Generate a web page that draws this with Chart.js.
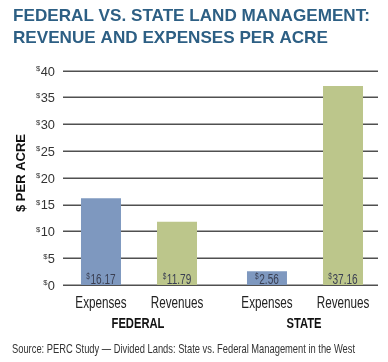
<!DOCTYPE html>
<html>
<head>
<meta charset="utf-8">
<script src="https://cdn.jsdelivr.net/npm/chart.js@4"></script>
<style>
  html, body { margin: 0; padding: 0; background: #fff; }
  canvas { display: block; }
</style>
</head>
<body>
<canvas id="myChart" width="388" height="362"></canvas>
<script>
// data
const groups = ['FEDERAL', 'STATE']
const seriesNames = ['Expenses', 'Revenues']
const expenses = [16.17, 2.56]
const revenues = [11.79, 37.16]
const yTicks = [0, 5, 10, 15, 20, 25, 30, 35, 40]

const titleLines = ['FEDERAL VS. STATE LAND MANAGEMENT:', 'REVENUE AND EXPENSES PER ACRE']
const yTitle = '$ PER ACRE'
const source = 'Source: PERC Study \u2014 Divided Lands: State vs. Federal Management in the West'

const FONT = '"Liberation Sans", Arial, sans-serif'

// no condensed face installed, so squeeze the regular one sideways
function narrowText(ctx, text, x, y, sx, align) {
    ctx.save()
    ctx.translate(x, y)
    ctx.scale(sx, 1)
    ctx.textAlign = align
    ctx.fillText(text, 0, 0)
    ctx.restore()
}

// "$" as a small raised sign in front of a number
function dollarText(ctx, num, x, y, size, sx, align) {
    ctx.font = size + 'px ' + FONT
    const w = ctx.measureText(num).width * sx
    ctx.font = Math.round(size * 0.62) + 'px ' + FONT
    const sw = ctx.measureText('$').width * sx + 0.5
    let left = x
    if (align === 'right') left = x - w - sw
    if (align === 'center') left = x - (w + sw) / 2
    narrowText(ctx, '$', left, y - size * 0.33, sx, 'left')
    ctx.font = size + 'px ' + FONT
    narrowText(ctx, num, left + sw, y, sx, 'left')
}

const decorations = {
    id: 'decorations',
    beforeDatasetsDraw(chart) {
        const ctx = chart.ctx
        const y = chart.scales.y
        ctx.save()
        ctx.strokeStyle = '#505050'
        ctx.lineWidth = 1.4
        yTicks.forEach(v => {
            const py = Math.round(y.getPixelForValue(v)) + 0.3
            ctx.beginPath()
            ctx.moveTo(63, py)
            ctx.lineTo(378, py)
            ctx.stroke()
        })
        ctx.restore()
    },
    afterDatasetsDraw(chart) {
        const ctx = chart.ctx
        const x = chart.scales.x
        const y = chart.scales.y
        ctx.save()
        ctx.textBaseline = 'alphabetic'

        // title
        ctx.fillStyle = '#2d5f84'
        ctx.font = 'bold 17px ' + FONT
        const tw = ctx.measureText(titleLines[0]).width
        narrowText(ctx, titleLines[0], 13, 21, 357 / tw, 'left')
        narrowText(ctx, titleLines[1], 13, 43, 357 / tw, 'left')

        // y tick labels
        ctx.fillStyle = '#333'
        yTicks.forEach(v => {
            dollarText(ctx, String(v), 55, y.getPixelForValue(v) + 4.8, 13.5, 0.95, 'right')
        })

        // y title
        ctx.save()
        ctx.translate(25, 173)
        ctx.rotate(-Math.PI / 2)
        ctx.font = 'bold 13px ' + FONT
        ctx.textAlign = 'center'
        ctx.fillStyle = '#111'
        ctx.fillText(yTitle, 0, 0)
        ctx.restore()

        // values in bars, series names under bars
        const allData = [expenses, revenues]
        allData.forEach((arr, di) => {
            chart.getDatasetMeta(di).data.forEach((bar, i) => {
                ctx.fillStyle = '#3a3f52'
                dollarText(ctx, arr[i].toFixed(2), bar.x, 283.5, 14, 0.72, 'center')
                ctx.fillStyle = '#222'
                ctx.font = '16px ' + FONT
                narrowText(ctx, seriesNames[di], bar.x, 307.5, 0.73, 'center')
            })
        })

        // group labels
        ctx.font = 'bold 14px ' + FONT
        ctx.fillStyle = '#111'
        groups.forEach((g, i) => {
            narrowText(ctx, g, x.getPixelForValue(i) - 1, 327.5, 0.8, 'center')
        })

        // source line
        ctx.font = '13px ' + FONT
        ctx.fillStyle = '#333'
        const sw = ctx.measureText(source).width
        narrowText(ctx, source, 12, 352.5, 343 / sw, 'left')
        ctx.restore()
    }
}

const ctx = document.getElementById('myChart').getContext('2d')

new Chart(ctx, {
    type: 'bar',
    data: {
        labels: groups,
        datasets: [
            { label: seriesNames[0], data: expenses, backgroundColor: '#7e98bf' },
            { label: seriesNames[1], data: revenues, backgroundColor: '#bcc68b' }
        ]
    },
    options: {
        responsive: false,
        animation: false,
        events: [],
        layout: { padding: { left: 56, right: 0, top: 70.7, bottom: 77 } },
        datasets: { bar: { categoryPercentage: 0.916, barPercentage: 0.526 } },
        plugins: { legend: { display: false }, tooltip: { enabled: false } },
        scales: {
            x: { display: false },
            y: { display: false, min: 0, max: 40, ticks: { stepSize: 5 } }
        }
    },
    plugins: [decorations]
})
</script>
</body>
</html>
